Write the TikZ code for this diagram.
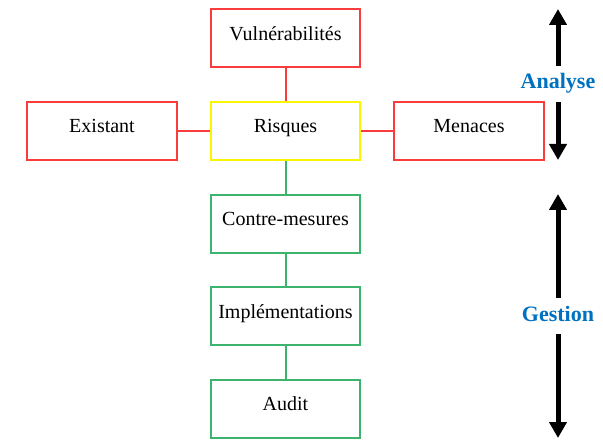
\documentclass[tikz,border=0pt]{standalone}
\usepackage{fontspec}
\setmainfont{Liberation Serif}
\usepackage{xcolor}
\usetikzlibrary{arrows.meta,positioning}

\definecolor{riskred}{RGB}{250,60,60}
\definecolor{riskyellow}{RGB}{250,245,0}
\definecolor{riskgreen}{RGB}{60,180,110}
\definecolor{phaseblue}{RGB}{0,112,192}

\begin{document}
\begin{tikzpicture}[
    x=1pt, y=1pt,
    node distance=32.6pt,
    box/.style={rectangle, draw, line width=2pt, minimum width=149.6pt, minimum height=58pt, align=center, text height=10pt, text depth=6pt, font=\fontsize{20}{24}\selectfont},
    redbox/.style={box, draw=riskred},
    greenbox/.style={box, draw=riskgreen},
    link/.style={line width=2pt},
    phase/.style={font=\fontsize{22}{26}\selectfont\bfseries, text=phaseblue, inner xsep=0pt, inner ysep=8pt, text height=15pt, text depth=5pt},
    bigarrow/.style={-{Triangle[length=16pt,width=17pt]}, line width=5pt}
]
\useasboundingbox (0,0) rectangle (603,440);

% risk analysis part
\node[box, draw=riskyellow] (risques) at (285.5,309) {Risques};
\node[redbox, above=of risques] (vulnerabilites) {Vulnérabilités};
\node[redbox, left=31.9pt of risques] (existant) {Existant};
\node[redbox, right=31.9pt of risques] (menaces) {Menaces};

% management part
\node[greenbox, below=of risques] (contremesures) {Contre-mesures};
\node[greenbox, below=of contremesures] (implementations) {Implémentations};
\node[greenbox, below=of implementations] (audit) {Audit};

\draw[link, riskred] (vulnerabilites) -- (risques);
\draw[link, riskred] (existant) -- (risques);
\draw[link, riskred] (risques) -- (menaces);
\draw[link, riskgreen] (risques) -- (contremesures);
\draw[link, riskgreen] (contremesures) -- (implementations);
\draw[link, riskgreen] (implementations) -- (audit);

% phases on the right
\node[phase] (analyse) at (558,356) {Analyse};
\coordinate (analyse-top) at (558,431);
\coordinate (analyse-bottom) at (558,280);
\draw[bigarrow] (analyse) -- (analyse-top);
\draw[bigarrow] (analyse) -- (analyse-bottom);

\node[phase] (gestion) at (558,124) {Gestion};
\coordinate (gestion-top) at (558,246);
\coordinate (gestion-bottom) at (558,2);
\draw[bigarrow] (gestion) -- (gestion-top);
\draw[bigarrow] (gestion) -- (gestion-bottom);

\end{tikzpicture}
\end{document}
